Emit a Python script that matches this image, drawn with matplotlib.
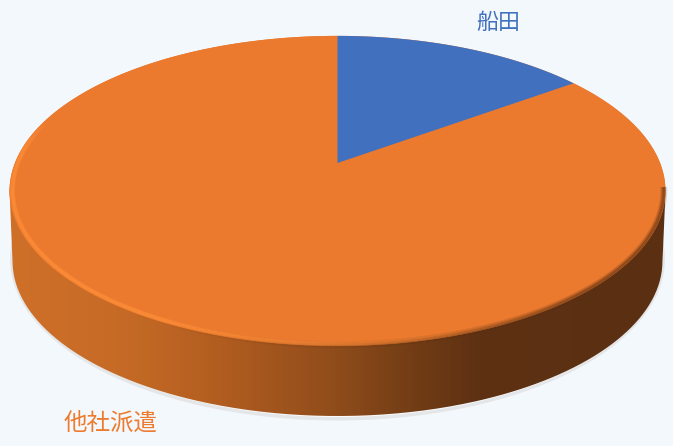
import numpy as np
import matplotlib
matplotlib.use("Agg")
import matplotlib.pyplot as plt
from matplotlib.collections import LineCollection
from matplotlib.colors import LinearSegmentedColormap
from matplotlib.patches import Ellipse, PathPatch
from matplotlib.path import Path

plt.rcParams['font.family'] = ['Noto Sans CJK JP', 'DejaVu Sans']

categories = ['船田', '他社派遣']
values = [15, 85]
colors = ['#4170BF', '#EB7A2F']
BG = '#F3F8FC'

W, H = 673, 446
CX, APEX_Y = 337.5, 163.0
A_Y, B_X, K = 150.0, 322.6, 0.18
DEPTH_CY, DEPTH_RX, DEPTH_RY = 261.0, 325.0, 155.0


def project(theta, scale=1.0):
    """theta clockwise from top on the unit disc -> image pixels (perspective)."""
    s, c = scale * np.sin(theta), scale * np.cos(theta)
    d = 1 + K * c
    return CX + B_X * s / d, APEX_Y - A_Y * c / d


def wedge_xy(t0, t1, n=200):
    t = np.linspace(t0, t1, n)
    x, y = project(t)
    return np.r_[CX, x, CX], np.r_[APEX_Y, y, APEX_Y]


fig = plt.figure(figsize=(W / 100, H / 100), dpi=100, facecolor=BG)
ax = fig.add_axes([0, 0, 1, 1])
ax.set_axis_off()

# ground shadow
ax.add_patch(Ellipse((CX, 259), 2 * 327.5, 2 * 161.5, fc='#E5E6E8', ec='none', zorder=1))
ax.add_patch(Ellipse((CX + 0.5, 259), 2 * 325.0, 2 * 158.0, fc='#FAFBFC', ec='none', zorder=1.1))

# side wall: horizontal shading clipped to the body silhouette
t = np.linspace(0, 2 * np.pi, 500)
tx, ty = project(t)
shade = LinearSegmentedColormap.from_list('side', [
    (0.00, '#CF7029'), (0.18, '#C56A26'), (0.33, '#B05C20'), (0.50, '#8F4C1B'),
    (0.62, '#713C15'), (0.72, '#5E3113'), (1.00, '#5A2F12')])
im = ax.imshow(np.linspace(0, 1, 656)[None, :], cmap=shade, aspect='auto',
               extent=(9, 665, 420, 150), zorder=2)
u = np.linspace(np.pi / 2, 3 * np.pi / 2, 300)  # lower half, right to left
bx = CX + DEPTH_RX * np.sin(u)
by = DEPTH_CY - DEPTH_RY * np.cos(u)
ex = np.linspace(-np.pi / 2, np.pi / 2, 200)
upx, upy = CX + 328.0 * np.sin(ex), 192.0 - 100 * np.cos(ex)
body = Path(np.r_[np.c_[bx, by], np.c_[upx, upy], [[bx[0], by[0]]]])
clip = PathPatch(body, fc='none', ec='none', transform=ax.transData)
ax.add_patch(clip)
im.set_clip_path(clip)

# top face
cum = np.r_[0, np.cumsum(values)] / np.sum(values) * 2 * np.pi
ax.fill(tx, ty, fc=colors[1], ec='none', zorder=3)
for i, (start, end) in enumerate(zip(cum[:-1], cum[1:])):
    wx, wy = wedge_xy(start, end)
    ax.fill(wx, wy, fc=colors[i], ec='none', zorder=4 if i == 0 else 3)

# bevel: dark blur on the lower right rim, light rim on the lower left
a = np.linspace(0.55 * np.pi, 1.60 * np.pi, 500)


def rim(scale):
    px, py = project(a, scale)
    pts = np.c_[px, py].reshape(-1, 1, 2)
    return np.concatenate([pts[:-1], pts[1:]], axis=1)


mid = 0.5 * (a[:-1] + a[1:])
f = (mid - np.pi) / (0.6 * np.pi)  # about -0.75 right side, +1 left side
rgba_dark = np.zeros((len(mid), 4))
rgba_dark[:, :3] = matplotlib.colors.to_rgb('#5A2F12')
rgba_light = np.zeros((len(mid), 4))
rgba_light[:, :3] = matplotlib.colors.to_rgb('#FF8E38')
dark = np.clip(-f * 2.2 + 0.55, 0, 1)
light = np.clip(f * 1.4 + 0.55, 0, 1) * np.clip((1 - f) * 8, 0, 1)
for lw, al in [(5.0, 0.16), (3.4, 0.25), (1.8, 0.4)]:
    rgba_dark[:, 3] = dark * al
    ax.add_collection(LineCollection(rim(0.995), colors=rgba_dark.copy(), linewidths=lw,
                                     capstyle='butt', zorder=5))
for lw, al in [(3.6, 0.4), (2.2, 0.75)]:
    rgba_light[:, 3] = light * al
    ax.add_collection(LineCollection(rim(0.991), colors=rgba_light.copy(), linewidths=lw,
                                     capstyle='butt', zorder=5))

ax.text(498, 23, categories[0], color=colors[0], fontsize=15.8, ha='center', va='center', zorder=6)
ax.text(111, 423, categories[1], color='#EE7A2E', fontsize=16.9, ha='center', va='center', zorder=6)

ax.set_xlim(0, W)
ax.set_ylim(H, 0)
fig.savefig('out.png', dpi=100, facecolor=BG)
